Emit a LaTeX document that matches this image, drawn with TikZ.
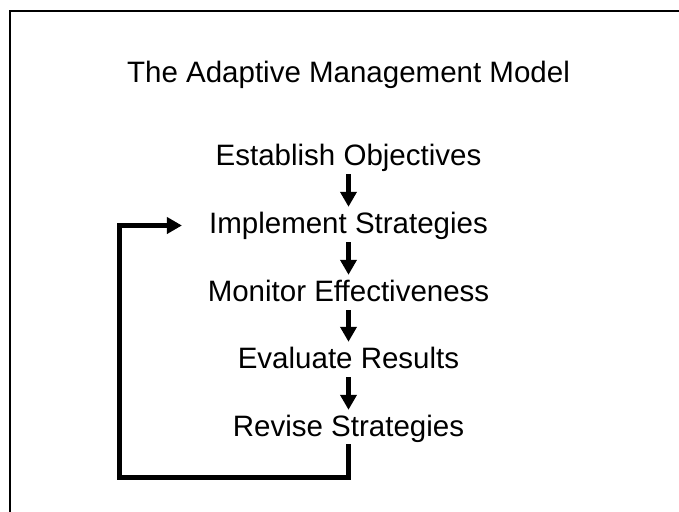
\documentclass[tikz,border=0pt]{standalone}
\usepackage{fontspec}
\setmainfont{Liberation Sans}
\usetikzlibrary{arrows.meta}

\tikzset{
  stage/.style={anchor=base, inner sep=0pt, text height=21pt, text depth=6pt,
                font=\fontsize{29.5}{34}\selectfont},
  flowarrow/.style={line width=5pt, -{Triangle[width=16pt,length=15pt]},
                    shorten <=3pt, shorten >=5pt},
  feedback/.style={line width=5pt, line join=miter, -{Triangle[width=16pt,length=15pt]},
                   shorten <=2pt, shorten >=27pt}
}

\begin{document}
\begin{tikzpicture}[x=1pt,y=-1pt]

            \useasboundingbox (0,0) rectangle (679,511);
            % frame
            \draw[line width=1.8pt] (10,530) -- (10,11) -- (700,11);

            \node[stage] (title) at (348.5,82) {The Adaptive Management Model};

            \node[stage] (est)  at (348.5,165) {Establish Objectives};
            \node[stage] (impl) at (348.5,233) {Implement Strategies};
            \node[stage] (mon)  at (348.5,301) {Monitor Effectiveness};
            \node[stage] (eval) at (348.5,368) {Evaluate Results};
            \node[stage] (rev)  at (348.5,436) {Revise Strategies};

             %arrows
                 \foreach \a/\b in {est/impl, impl/mon, mon/eval, eval/rev}
                     \draw[flowarrow] (\a.south) -- (\b.north);

            \coordinate (corner) at (119,477.5);
            \draw[feedback] (rev.south) |- (corner) |- (impl.west);
\end{tikzpicture}
\end{document}
